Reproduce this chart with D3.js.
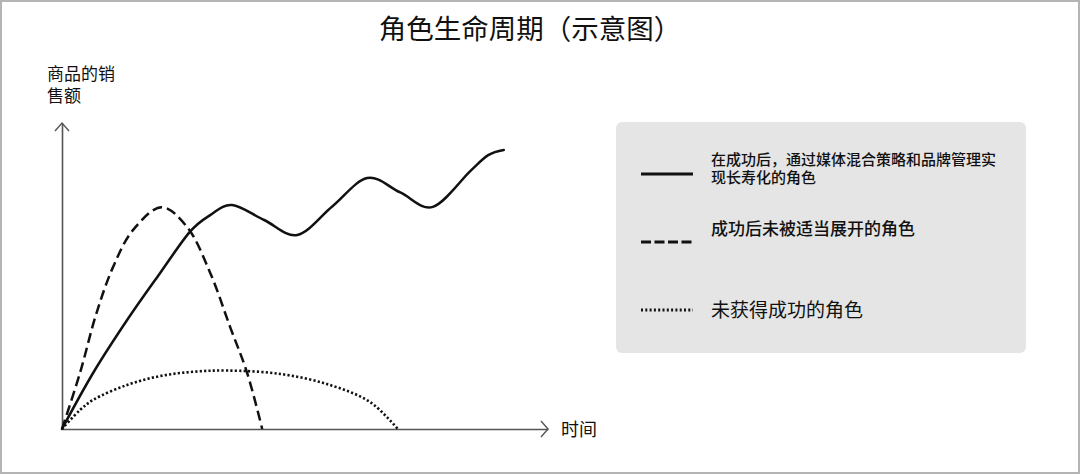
<!DOCTYPE html>
<html>
<head>
<meta charset="utf-8">
<script src="https://cdn.jsdelivr.net/npm/d3@7"></script>
<style>
  html, body { margin: 0; padding: 0; background: #fff; }
  svg { display: block; font-family: "Noto Sans CJK SC", "Noto Sans", sans-serif; }
</style>
</head>
<body>
<script>
// Chart data (time 0-100, sales 0-100)
var seriesNames = [
  "在成功后，通过媒体混合策略和品牌管理实|现长寿化的角色",
  "成功后未被适当展开的角色",
  "未获得成功的角色"
];

// long-lived role: rises then keeps waving upward
var longLifeTime  = [0, 6.4, 13.4, 20.2, 26.3, 30.5, 35.0, 41.6, 48.4, 55.6, 62.8, 69.6, 76.3, 84.0, 87.7, 90.9];
var longLifeSales = [0, 18.3, 35.6, 51.0, 64.4, 69.9, 73.2, 68.3, 63.4, 72.7, 82.0, 77.3, 72.6, 84.3, 89.5, 91.2];

// successful but not developed: quick peak then falls to zero
var shortLifeTime  = [0, 3.7, 7.1, 10.5, 14.6, 20.5, 25.7, 30.5, 34.6, 38.1, 41.2];
var shortLifeSales = [0, 18.3, 37.9, 52.9, 65.0, 72.5, 66.1, 51.0, 33.3, 18.3, 0];

// not successful: low flat arc
var failTime  = [0, 3.7, 6.4, 13.4, 20.2, 27.0, 34.0, 44.9, 55.1, 63.4, 69.1];
var failSales = [0, 6.2, 9.5, 14.4, 17.3, 18.7, 19.1, 18.0, 14.4, 8.8, 0];

var title = "角色生命周期（示意图）";
var yLabel = ["商品的销", "售额"];
var xLabel = "时间";

// SVG area
var svgWidth = 1080;
var svgHeight = 474;

var svg = d3.select("body")
  .append("svg")
  .attr("width", svgWidth)
  .attr("height", svgHeight);

// outer frame
svg.append("rect")
  .attr("x", 1).attr("y", 1)
  .attr("width", svgWidth - 2).attr("height", svgHeight - 2)
  .attr("fill", "#fff")
  .attr("stroke", "#b4b4b4")
  .attr("stroke-width", 2);

// title
svg.append("text")
  .attr("x", 530).attr("y", 39)
  .attr("text-anchor", "middle")
  .attr("font-size", 27.5)
  .attr("fill", "#111")
  .text(title);

// scales
var xScale = d3.scaleLinear().domain([0, 100]).range([62, 548]);
var yScale = d3.scaleLinear().domain([0, 100]).range([429, 123]);

// axes: only the domain lines, no ticks
var axisColor = "#555";
var bottomAxis = d3.axisBottom(xScale).ticks(0).tickSizeOuter(0);
var leftAxis = d3.axisLeft(yScale).ticks(0).tickSizeOuter(0);

svg.append("g")
  .attr("transform", `translate(0, ${yScale(0)})`)
  .call(bottomAxis)
  .select(".domain")
  .attr("stroke", axisColor)
  .attr("stroke-width", 1.6);

svg.append("g")
  .attr("transform", `translate(${xScale(0)}, 0)`)
  .call(leftAxis)
  .select(".domain")
  .attr("stroke", axisColor)
  .attr("stroke-width", 1.6);

// open arrow heads
var xEnd = xScale(100), y0 = yScale(0);
svg.append("path")
  .attr("d", `M${xEnd - 7},${y0 - 8} L${xEnd},${y0} L${xEnd - 7},${y0 + 8}`)
  .attr("fill", "none").attr("stroke", axisColor).attr("stroke-width", 1.4);
var x0 = xScale(0), yEnd = yScale(100);
svg.append("path")
  .attr("d", `M${x0 - 7},${yEnd + 8} L${x0},${yEnd} L${x0 + 7},${yEnd + 8}`)
  .attr("fill", "none").attr("stroke", axisColor).attr("stroke-width", 1.4);

// axis labels
svg.selectAll(".ylab")
  .data(yLabel)
  .enter()
  .append("text")
  .attr("x", 47)
  .attr("y", (d, i) => 80 + i * 22)
  .attr("font-size", 17)
  .attr("fill", "#111")
  .text(d => d);

svg.append("text")
  .attr("x", 561).attr("y", 436)
  .attr("font-size", 18)
  .attr("fill", "#111")
  .text(xLabel);

// lines
var series = [
  { t: longLifeTime, s: longLifeSales, dash: null, cap: "round", curve: d3.curveCatmullRom.alpha(0) },
  { t: shortLifeTime, s: shortLifeSales, dash: "10,5", cap: "butt", curve: d3.curveCatmullRom.alpha(0.5) },
  { t: failTime, s: failSales, dash: "2.2,2.2", cap: "butt", curve: d3.curveCatmullRom.alpha(0.5) }
];

svg.selectAll(".series")
  .data(series)
  .enter()
  .append("path")
  .attr("d", function(d) {
    var drawLine = d3.line()
      .x(p => xScale(p[0]))
      .y(p => yScale(p[1]))
      .curve(d.curve);
    return drawLine(d.t.map((v, i) => [v, d.s[i]]));
  })
  .attr("fill", "none")
  .attr("stroke", "#111")
  .attr("stroke-width", (d, i) => i == 2 ? 2.6 : 2.5)
  .attr("stroke-linecap", d => d.cap)
  .attr("stroke-dasharray", d => d.dash);

// legend box
svg.append("rect")
  .attr("x", 616).attr("y", 122)
  .attr("width", 410).attr("height", 231)
  .attr("rx", 6)
  .attr("fill", "#e5e5e5");

var legendY = [174, 242, 310];
var legend = svg.selectAll(".legend")
  .data(series)
  .enter()
  .append("g")
  .attr("transform", (d, i) => `translate(0, ${legendY[i]})`);

legend.append("line")
  .attr("x1", 641).attr("x2", 693)
  .attr("y1", 0).attr("y2", 0)
  .attr("stroke", "#111")
  .attr("stroke-width", 3)
  .attr("stroke-dasharray", (d, i) => i == 0 ? null : (i == 1 ? "10,3.5" : "2,2.3"));

// legend texts (first one wraps on two lines)
var legendFont = [15, 17, 19];
var legendWeight = [500, 500, 400];
var legendTextY = [-14, -13, 0];
legend.each(function(d, i) {
  var lines = seriesNames[i].split("|");
  var g = d3.select(this);
  lines.forEach(function(txt, k) {
    g.append("text")
      .attr("x", 711)
      .attr("y", legendTextY[i] + k * 18)
      .attr("dy", "0.35em")
      .attr("font-size", legendFont[i])
      .attr("font-weight", legendWeight[i])
      .attr("fill", "#111")
      .text(txt);
  });
});
</script>
</body>
</html>
